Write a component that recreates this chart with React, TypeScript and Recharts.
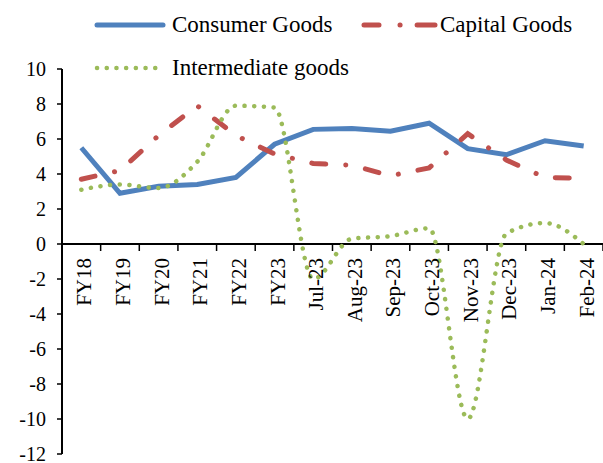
import React from "react";
import { LineChart, Line, XAxis, YAxis, ReferenceLine } from "recharts";

const categories = ["FY18", "FY19", "FY20", "FY21", "FY22", "FY23", "Jul-23", "Aug-23", "Sep-23", "Oct-23", "Nov-23", "Dec-23", "Jan-24", "Feb-24"];
const consumerGoods = [5.5, 2.9, 3.3, 3.4, 3.8, 5.7, 6.55, 6.6, 6.45, 6.9, 5.45, 5.1, 5.9, 5.6];
const capitalGoods = [3.7, 4.2, 6.2, 7.9, 6.2, 5.15, 4.6, 4.5, 3.9, 4.35, 6.3, 4.8, 3.8, 3.75];
const intermediateGoods = [3.1, 3.4, 3.2, 4.7, 7.9, 7.8, -2.0, 0.3, 0.45, 0.9, -10.0, 0.6, 1.2, 0.0];
const yTicks = [-12, -10, -8, -6, -4, -2, 0, 2, 4, 6, 8, 10];

const FONT = "'Liberation Serif', 'Times New Roman', serif";
const BLUE = "#4f81bd";
const RED = "#c0504d";
const GREEN = "#9bbb59";

const W = 603;
const H = 463;
const TOP = 69;
const AXIS_W = 62;
const X_AXIS_H = 9;
const PLOT_BOTTOM = H - X_AXIS_H;
const ZERO_Y = TOP + ((PLOT_BOTTOM - TOP) * 10) / 22;
const BAND = (W - AXIS_W) / categories.length;

const data = categories.map((c, i) => ({
  name: c,
  consumer: consumerGoods[i],
  capital: capitalGoods[i],
  intermediate: intermediateGoods[i],
}));

// x labels sit under the zero line, ticks between categories (Excel style)
function CatTick(props: any) {
  const { x, payload } = props;
  const ly = ZERO_Y + 14;
  return (
    <g>
      <line x1={x + BAND / 2} y1={ZERO_Y} x2={x + BAND / 2} y2={ZERO_Y + 7} stroke="#000" strokeWidth={1.5} />
      <text
        x={x + 10}
        y={ly}
        transform={`rotate(-90, ${x + 10}, ${ly})`}
        textAnchor="end"
        fontSize={21}
        fontFamily={FONT}
        fill="#000"
      >
        {payload.value}
      </text>
    </g>
  );
}

function LegendBox() {
  return (
    <svg width={W} height={90} style={{ position: "absolute", left: 0, top: 0 }}>
      <line x1={97} y1={25} x2={163} y2={25} stroke={BLUE} strokeWidth={5} strokeLinecap="round" />
      <text x={172} y={32} fontSize={23} fontFamily={FONT} fill="#000">Consumer Goods</text>
      <line x1={364} y1={25} x2={435} y2={25} stroke={RED} strokeWidth={5} strokeLinecap="round" strokeDasharray="15 21 0.1 17 20" />
      <text x={440} y={32} fontSize={23} fontFamily={FONT} fill="#000">Capital Goods</text>
      <line x1={97} y1={68} x2={162} y2={68} stroke={GREEN} strokeWidth={4.5} strokeLinecap="round" strokeDasharray="0.1 9.6" />
      <text x={172} y={75} fontSize={23} fontFamily={FONT} fill="#000">Intermediate goods</text>
    </svg>
  );
}

export default function App() {
  return (
    <div style={{ position: "absolute", left: 0, top: 0, width: W, height: H, background: "#fff" }}>
      <LineChart width={W} height={H} data={data} margin={{ top: TOP, right: 0, bottom: 0, left: 0 }}>
        <XAxis
          dataKey="name"
          height={X_AXIS_H}
          axisLine={false}
          tickLine={false}
          interval={0}
          padding={{ left: BAND / 2, right: BAND / 2 }}
          tick={<CatTick />}
        />
        <YAxis
          width={AXIS_W}
          domain={[-12, 10]}
          ticks={yTicks}
          interval={0}
          axisLine={{ stroke: "#000", strokeWidth: 2 }}
          tickLine={{ stroke: "#000", strokeWidth: 1.5 }}
          tickSize={5}
          tickMargin={11}
          tick={{ fontSize: 20, fill: "#000", fontFamily: FONT }}
        />
        <ReferenceLine y={0} stroke="#000" strokeWidth={2} />
        <Line dataKey="consumer" stroke={BLUE} strokeWidth={5} dot={false} isAnimationActive={false} />
        <Line dataKey="capital" stroke={RED} strokeWidth={5} strokeLinecap="round" strokeDasharray="14 20 0.1 20" dot={false} isAnimationActive={false} />
        <Line type="monotone" dataKey="intermediate" stroke={GREEN} strokeWidth={4.5} strokeLinecap="round" strokeDasharray="0.1 9.6" dot={false} isAnimationActive={false} />
      </LineChart>
      <LegendBox />
    </div>
  );
}
